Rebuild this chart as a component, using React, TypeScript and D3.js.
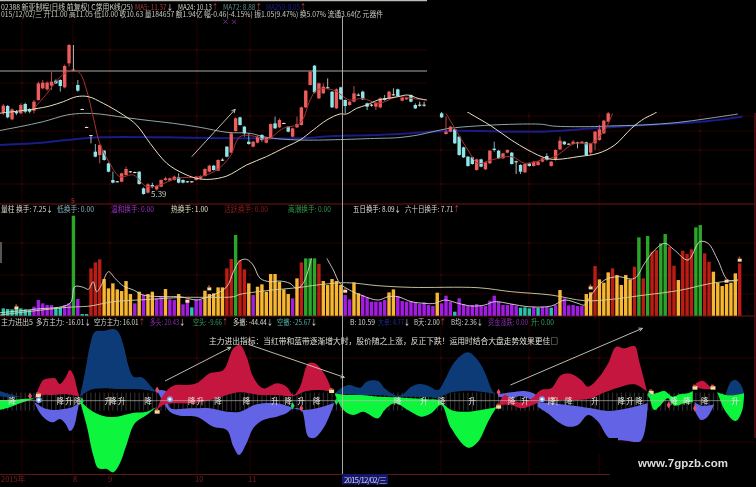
import React from "react";
import * as d3 from "d3";

type P = [number, number];
const WIDTH = 756;
const HEIGHT = 487;

// ---------- candles (price pane, arbitrary level units); null = hidden
const opens: (number | null)[] = [292,312,272,295,290,318,302,298,330,365,362,373,388,390,368,440,420,375,303,249,225,175,165,178,140,90,86,85,105,116,114,115,65,52,75,62,70,90,88,90,98,90,86,86,90,95,102,115,133,118,151,190,172,237,278,250,205,190,202,225,202,215,260,248,261,250,220,248,255,308,375,433,335,350,365,355,305,368,330,315,325,346,355,320,316,310,308,335,335,347,362,328,332,345,315,316,316,null,null,null,290,228,235,242,220,188,160,158,120,152,122,140,184,178,155,172,172,146,135,113,140,132,135,145,162,132,150,182,205,199,198,200,200,203,172,200,210,230,265];
const closes: (number | null)[] = [313,278,302,290,315,295,295,325,380,382,382,385,380,372,432,495,421,358,301,247,222,160,195,150,115,82,84,110,123,114,112,78,48,77,70,72,90,95,95,100,82,82,84,84,100,102,123,133,120,150,149,160,230,275,255,230,198,205,220,210,218,258,245,270,259,235,245,258,308,358,415,353,380,370,368,308,362,332,312,325,350,344,332,310,314,322,335,330,355,345,342,337,337,325,305,314,314,null,null,null,278,235,250,200,165,158,132,138,152,130,143,178,180,155,170,180,138,144,115,138,132,145,145,155,150,145,180,208,197,197,205,203,205,165,200,235,242,268,290];
const highs: (number | null)[] = [318,315,305,300,320,322,305,330,385,390,386,415,392,392,436,498,495,390,304,250,225,198,197,180,142,115,87,112,130,117,115,116,68,80,82,74,92,100,97,103,110,92,87,87,102,104,125,136,135,152,155,192,232,278,280,252,230,207,222,228,220,260,280,275,262,252,247,280,310,360,417,435,382,380,395,357,365,370,332,328,372,350,358,322,318,324,338,345,358,365,364,339,340,347,320,325,325,null,null,null,295,280,252,244,222,190,162,160,154,154,145,180,205,180,172,182,174,148,137,140,142,147,147,157,170,147,182,220,207,200,210,205,207,205,202,237,255,270,300];
const lows: (number | null)[] = [285,275,270,285,287,290,290,290,328,362,358,360,378,355,365,430,418,355,300,246,200,158,140,148,113,80,83,83,103,112,110,76,46,50,65,58,68,88,86,88,80,80,82,82,88,92,100,113,118,116,147,158,170,235,253,220,196,188,200,205,200,212,243,246,258,233,218,246,253,306,373,350,333,348,363,306,303,330,290,313,323,342,330,300,310,300,305,328,333,343,340,326,330,323,303,310,310,null,null,null,276,226,233,198,163,156,130,136,118,128,120,138,175,153,153,170,136,108,108,111,130,130,133,143,148,130,148,180,195,196,196,185,198,163,165,180,208,228,263];

const ma5a: P[] = [[7,305],[10,350],[12,385],[14,410],[16,420],[17.5,410],[19,360],[20.5,280],[22,200],[24.3,140],[26.6,100],[29.7,105],[32.7,70],[35.7,75],[39.5,95],[44.9,100],[48.7,120],[51.7,160],[54,220],[57.8,220],[60,210],[63.9,245],[67.7,260],[70,330],[71.5,360],[75.3,360],[79,330],[82,335],[85.5,320],[90,340],[93,335],[96.6,330]];
const ma5b: P[] = [[101,290],[103,245],[106,180],[108.3,140],[111.3,150],[116,160],[119,140],[122.8,150],[125.8,160],[130.4,200],[134.2,200],[137.2,240],[139,290]];
const ma24a: P[] = [[-1,290],[7,303],[10.6,312],[13.7,325],[16.7,340],[19.4,340],[22.8,320],[27.4,285],[30.4,255],[33.5,200],[37.3,140],[41,110],[44.1,95],[47.1,92],[51,102],[55.5,135],[60,160],[64.6,190],[67.7,210],[70.7,240],[73.8,270],[76.8,288],[78.3,288],[80.6,305],[82.9,315],[85.5,330],[87.8,335],[90,340],[92.3,345],[94.6,335],[96.6,330]];
const ma24b: P[] = [[104,310],[106.4,290],[111.3,252],[115.9,210],[119.7,180],[123.9,155],[126.5,152],[131.1,160],[135.7,170],[139.5,195],[143.3,245],[146.3,275],[148.6,290],[151,315]];
const ma72: P[] = [[-1,238],[3.8,250],[9.1,265],[14.5,285],[18.3,290],[22,288],[27.4,278],[33.5,268],[38.8,260],[44.9,248],[51,233],[56.3,230],[60,218],[67.7,210],[85.5,215],[90,217],[94.6,225],[98,235],[101.8,245],[107.9,252],[115.5,257],[123,257],[125.3,252],[133.7,250],[138.3,252],[145.9,255],[153.5,262],[161,275],[167.6,288]];
const ma250: P[] = [[-1,195],[7,200],[14.5,210],[22,218],[37.3,218],[52.5,215],[60,215],[67.7,215],[75.3,222],[85.5,225],[93.1,230],[100.7,237],[116,235],[123.5,235],[134.9,245],[146.3,255],[153.9,260],[161.5,268],[168.6,280]];

// ---------- volume pane
const volumes = [22,20,19,22,22,19,17,27,47,37,32,32,25,25,32,37,300,50,5,5,142,160,169,110,82,97,79,74,104,65,37,72,62,65,72,52,57,80,49,47,65,34,47,25,49,49,75,65,67,85,85,142,170,242,167,139,97,62,87,94,72,125,125,102,79,65,52,112,160,172,172,172,155,104,92,110,104,92,62,49,100,67,62,55,42,42,42,47,70,79,59,44,42,44,40,35,40,32,29,69,37,60,42,12,52,35,29,32,35,31,29,45,60,42,32,32,35,30,24,25,22,27,24,27,27,24,32,77,52,31,32,29,29,65,70,149,109,99,130,142,122,92,122,109,147,235,112,239,192,197,217,245,207,150,107,195,185,199,265,272,187,162,132,99,89,95,99,127,157];
const volumeKinds = ("ttttttt"+"ppppp"+"tt"+"pp"+"g"+"p"+"tt"+"rrr"+"ooooooo"+"p"+"o"+"p"+"oo"+"pp"+"o"+"pp"+"o"+"pp"+"t"+"pp"+"ooooo"+"rr"+"g"+"rr"+"o"+"p"+"oooooooo"+"p"+"o"+"r"+"ggg"+"r"+"ooooo"+"pp"+"oo"+"pppppp"+"oo"+"ppppppppp"+"o"+"ppp"+"t"+"pppppppppppppp"+"ttt"+"p"+"t"+"pp"+"t"+"p"+"o"+"ppppp"+"oo"+"r"+"ooo"+"r"+"oooo"+"r"+"g"+"r"+"g"+"rr"+"gg"+"rr"+"o"+"rrr"+"gg"+"rr"+"oooooo"+"r").split("");
const volFastA: P[] = [[-0.8,9],[6.8,19],[15.2,37],[16.3,87],[18.3,85],[19.4,79],[20.5,102],[21.3,72],[22.4,92],[24,132],[25.5,112],[27.4,89],[29.7,77],[31.9,62],[37.3,57],[40.3,57],[44.1,47],[45.6,52],[47.9,62],[51,87],[52.5,132],[54,165],[55.5,169],[57,152],[58.6,112],[60.8,102],[63.1,104],[65.4,97],[66.9,82],[68.4,97],[70.3,172]];
const volFastB: P[] = [[73.8,172],[75.3,137],[76.8,97],[79,77],[81,65],[85.5,47],[87.8,57],[90,57],[93.1,42],[96.1,37],[98.4,37],[100.7,47],[103.8,37],[106.8,29],[109.8,32],[112.1,42],[115.9,35],[119.7,27],[125,29],[128.1,47],[131.1,37],[132.6,32],[134.1,62],[137.2,107],[140.2,117],[144,112],[146.3,157],[148.6,197],[150.9,217],[153.1,197],[156.2,167],[158.9,222],[160.8,217],[163,167],[165.3,107],[167.6,107]];
const volSlow: P[] = [[-0.8,2],[14.5,25],[17.5,27],[19.8,29],[25.1,42],[33.5,49],[41,55],[47.9,55],[52.5,57],[54,64],[60,75],[67.7,85],[71.5,92],[78.3,99],[85.5,90],[93.1,85],[108.3,84],[115.9,72],[125,62],[132.6,45],[138.7,49],[146.3,62],[153.9,75],[161.5,97],[167.6,107]];
const volFlags: P[] = [[3,22],[42,42],[47,79],[78,72],[134,82],[165,102],[168,165]];

// ---------- capital-flow pane: bands are [upper edge, lower edge] pairs of (day, value)
const NAVY = "#0e3a78", RED = "#c5163f", GREEN = "#10f53c", PERI = "#6464e6";
const bands: { fill: string; top: P[]; bottom: P[] }[] = [
  { fill: NAVY, top: [[-0.8,29],[1.5,19],[3.8,12],[6.8,7]], bottom: [[-0.8,14],[1.5,9],[3.8,11],[6.8,7]] },
  { fill: GREEN, top: [[-0.8,2],[1.5,2],[3.8,4],[6.8,7]], bottom: [[-0.8,-28],[1.5,-20],[3.8,-8],[6.8,5]] },
  { fill: RED, top: [[7.2,7],[8.2,42],[9.1,62],[10.6,67],[11.8,67],[12.9,50],[14.1,67],[15.2,92],[16,77],[16.9,32],[17.3,12]], bottom: [[7.2,7],[9.1,17],[11.4,17],[14.5,19],[17.3,12]] },
  { fill: PERI, top: [[7.2,-5],[9.1,-21],[11.4,-28],[13.7,-25],[16,-18],[17.3,-5]], bottom: [[7.2,-8],[8.4,-38],[9.9,-58],[11.4,-65],[12.9,-55],[14.1,-68],[15.2,-91],[16.1,-78],[16.9,-33],[17.3,-5]] },
  { fill: NAVY, top: [[17.5,12],[18.6,82],[19.8,167],[20.9,207],[22.8,209],[25.1,215],[26.2,207],[27.4,167],[28.5,107],[29.7,72],[31.6,70],[33.1,52],[34.4,32],[35,25]], bottom: [[17.5,12],[19.8,32],[22.8,37],[25.9,35],[29.7,35],[32.7,32],[35,25]] },
  { fill: GREEN, top: [[17.5,-1],[20.5,-33],[23.6,-48],[25.9,-48],[29.7,-36],[32.7,-33],[35,-18]], bottom: [[17.5,-1],[19,-73],[20.5,-163],[21.7,-203],[23.6,-205],[25.1,-215],[26.6,-188],[28.1,-133],[30,-68],[32.7,-43],[35,-18]] },
  { fill: PERI, top: [[35.1,32],[37.3,27],[38,-21],[42.6,-23],[47.1,-23],[51,-33],[54,-33],[57.8,-11],[62.4,-8],[65.4,-18],[68,-28],[71.5,-23],[75.3,-8]], bottom: [[35.1,29],[36.5,-3],[38,-33],[40.3,-45],[44.1,-48],[47.9,-78],[51,-88],[52.5,-138],[53.8,-163],[55.5,-128],[57,-83],[59.3,-58],[62.4,-48],[64.6,-38],[66.2,-23],[68,-28],[69.6,-108],[71.1,-111],[73,-83],[74.5,-43],[75.5,-8]] },
  { fill: RED, top: [[35,-28],[36.5,17],[38.8,45],[41.8,47],[44.1,52],[47.1,82],[50.2,92],[52.5,157],[54,167],[55.5,132],[57,72],[59.3,37],[62.4,52],[64.6,42],[66.2,17],[67.7,42],[69.6,112],[71.1,112],[73.4,77],[74.9,32]], bottom: [[35,-28],[36.5,-13],[38.8,-8],[42.6,-8],[46.4,-1],[51,17],[54,25],[58.5,17],[62.4,17],[66.2,14],[69.2,29],[72.2,32],[74.9,27]] },
  { fill: NAVY, top: [[75.7,22],[77.6,42],[79.1,47],[81.4,39],[82.9,57],[85.5,59],[87,37],[89.3,17],[90.8,17],[93.1,42],[95,50],[96.9,45],[99.2,32],[100.7,62],[103,117],[106,145],[107.9,127],[109.8,87],[111.7,27],[112.5,20]], bottom: [[75.7,22],[78,19],[81.4,17],[85.5,17],[89.3,12],[93.1,12],[96.9,10],[99.2,9],[102.2,25],[106,30],[109,27],[112.5,20]] },
  { fill: GREEN, top: [[75.7,22],[78,17],[81.4,17],[85.5,12],[89.3,10],[93.1,7],[96.9,4],[99.2,2],[102.2,-28],[106,-33],[109,-28],[112.5,-20]], bottom: [[75.7,17],[77.6,-28],[79.8,-43],[82.1,-33],[85.5,-53],[87,-28],[89.3,-8],[92.3,-28],[95.4,-48],[97.6,-38],[99.9,-13],[102.2,-83],[106,-141],[108.3,-123],[110.6,-63],[112.5,-20]] },
  { fill: PERI, top: [[112.9,19],[115.9,25],[118.9,29],[121.6,17],[122.7,-13]], bottom: [[112.9,12],[115.9,7],[118.1,14],[119.7,7],[121.6,-3],[122.7,-13]] },
  { fill: RED, top: [[113.2,-5],[114.4,17],[116.6,-1],[118.1,-5],[120.4,5],[122.7,32],[125,37],[127.3,77],[129.6,80],[131.8,62],[133.4,42],[135.7,67],[138,112],[139.8,162],[141.7,157],[144,164],[145.1,117],[146.9,27]], bottom: [[113.2,-13],[115.9,-13],[118.1,-23],[120.4,-15],[122.7,-3],[126.5,2],[131.1,2],[134.1,7],[137.2,25],[140.2,39],[144,49],[146.9,27]] },
  { fill: PERI, top: [[121.9,-5],[125,-8],[128.8,-13],[134.1,-23],[138,-31],[142.5,-23],[147,-8]], bottom: [[121.9,-18],[124.2,-38],[126.5,-63],[128.8,-78],[131.1,-73],[133.4,-43],[135.7,-63],[138.3,-113],[142,-120],[145.5,-120],[147,-8]] },
  { fill: GREEN, top: [[147.4,17],[148.9,22],[150.8,29],[152.7,12],[154.3,19],[156.2,22],[157.3,29]], bottom: [[147.4,12],[148.5,-28],[150,-13],[151.6,7],[153.1,-15],[155.4,-8],[157.3,-5]] },
  { fill: RED, top: [[158,52],[159.6,60],[161.5,37]], bottom: [[158,42],[159.6,35],[161.5,35]] },
  { fill: PERI, top: [[157.7,-5],[159.2,-15],[161.5,-13],[162.2,-11]], bottom: [[157.7,-28],[159.2,-58],[160.7,-48],[162.2,-11]] },
  { fill: NAVY, top: [[164.8,19],[166,57],[167.1,62],[168.2,49],[169,22]], bottom: [[164.8,17],[167.1,17],[169,20]] },
  { fill: GREEN, top: [[162.9,25],[164.8,17],[167.1,17],[169,22]], bottom: [[162.9,25],[164.8,-33],[167.1,-61],[168.6,-28],[169,22]] },
];
const signalDays = [2,13,15,17,24,25,27,33,43,45,49,55.5,62,65,68,71.5,90,96,100,107,116,119,125,126,129,135,141,143,145,153,156,160,167];
const signalWords = ["降","降","升","降","升","降","升","降","降","升","降","降","升","降","升","降","降","升","降","升","降","升","降","升","降","升","降","升","降","降","降","降","升"];
const signalMarks: { day: number; value: number; kind: string }[] = [
  { day: 6.1, value: 14, kind: "red" }, { day: 8, value: 17, kind: "gold" }, { day: 8.1, value: 2, kind: "ball" },
  { day: 17.9, value: -1, kind: "green" }, { day: 35.1, value: 32, kind: "red" }, { day: 35.1, value: -33, kind: "gold" },
  { day: 38, value: 4, kind: "ball" }, { day: 66, value: -15, kind: "green" }, { day: 68, value: -23, kind: "red" },
  { day: 74.9, value: 29, kind: "gold" }, { day: 76, value: -3, kind: "green" }, { day: 113, value: 25, kind: "red" },
  { day: 113, value: -18, kind: "gold" }, { day: 122.9, value: 4, kind: "ball" }, { day: 147.8, value: 25, kind: "gold" },
  { day: 147.4, value: 17, kind: "green" }, { day: 151.8, value: -13, kind: "red" }, { day: 157.8, value: 39, kind: "gold" },
  { day: 157.8, value: -23, kind: "red" }, { day: 161.9, value: 39, kind: "gold" },
];
const flowArrows: [P, P][] = [[[36.9,59],[51.9,160]], [[55.9,169],[77.8,70]], [[115.7,47],[145.8,217]]];
const priceArrow: [P, P] = [[43,160],[52.9,302]];

// ---------- scales
const xDay = d3.scaleLinear().domain([0, 168]).range([3.3, 739.7]);
const yPrice = d3.scaleLinear().domain([0, 630]).range([210, 0]);
const yVol = d3.scaleLinear().domain([0, 300]).range([315.7, 215.7]);
const yFlow = d3.scaleLinear().domain([-300, 300]).range([500.67, 300.67]);
const KIND: Record<string, string> = { t: "#2cc4ab", p: "#a31ee2", o: "#f8b730", r: "#bb1c12", g: "#2ca62c" };
const FONT = "'Noto Sans CJK SC','Noto Sans',sans-serif";

function mkLine(y: d3.ScaleLinear<number, number>) {
  return d3.line<P>().x((d) => xDay(d[0])).y((d) => y(d[1])).curve(d3.curveCatmullRom.alpha(0.5));
}
const linePrice = mkLine(yPrice);
const lineVol = mkLine(yVol);
const lineFlow = mkLine(yFlow);
function bandPath(top: P[], bottom: P[]) {
  const a = lineFlow(top) as string;
  const b = (lineFlow([...bottom].reverse()) as string).replace(/^M/, "L");
  return a + b + "Z";
}

function Label({ x, end, y, fill, text, arrow, arrowFill }: { x: number; end: number; y: number; fill: string; text: string; arrow?: string; arrowFill?: string }) {
  return (
    <text x={x} y={y} fill={fill} fontSize={7.6} fontFamily={FONT} textLength={end - x} lengthAdjust="spacingAndGlyphs">
      {text}
      {arrow ? <tspan fill={arrowFill ?? fill}>{arrow}</tspan> : null}
    </text>
  );
}
function Arrow({ from, to, sy }: { from: P; to: P; sy: d3.ScaleLinear<number, number> }) {
  const x1 = xDay(from[0]), y1 = sy(from[1]), x2 = xDay(to[0]), y2 = sy(to[1]);
  const a = Math.atan2(y2 - y1, x2 - x1);
  const h = 4;
  const p = (t: number) => `${x2 + h * Math.cos(a + t)},${y2 + h * Math.sin(a + t)}`;
  return (
    <g stroke="#d0cfc4" strokeWidth={0.9} fill="none">
      <line x1={x1} y1={y1} x2={x2} y2={y2} />
      <polyline points={`${p(Math.PI * 0.85)} ${x2},${y2} ${p(-Math.PI * 0.85)}`} />
    </g>
  );
}

export default function App() {
  const grid = "#2c0a0a";
  const gridV = [22, 73, 110, 197, 250, 441, 529, 599, 700];
  const gridH = [50, 83, 116, 131, 150, 184, 243, 275, 294, 358, 442];
  const stripes = d3.range(0, 169);
  return (
    <svg width={WIDTH} height={HEIGHT} style={{ position: "absolute", left: 0, top: 0, background: "#000" }}>
      <defs>
        <filter id="soft" x="0" y="0" width="100%" height="100%">
          <feGaussianBlur stdDeviation="0.35" />
        </filter>
      </defs>
      <rect width={WIDTH} height={HEIGHT} fill="#000" />
      <g filter="url(#soft)">
        {/* grid */}
        {gridV.map((x) => <line key={x} x1={x} x2={x} y1={20} y2={474} stroke={grid} strokeWidth={1} />)}
        {gridH.map((y) => <line key={y} x1={0} x2={755} y1={y} y2={y} stroke={grid} strokeWidth={1} />)}
        <line x1={0} x2={755} y1={204} y2={204} stroke="#6e1a1a" />
        <line x1={0} x2={755} y1={316} y2={316} stroke="#6e1a1a" />
        <line x1={755} x2={755} y1={113} y2={438} stroke="#8a1c1c" />
        <line x1={0} x2={610} y1={474.5} y2={474.5} stroke="#5e1616" />
        <line x1={0} x2={427} y1={0.5} y2={0.5} stroke="#bdbdb5" strokeWidth={1.5} />
        <line x1={0} x2={427} y1={71} y2={71} stroke="#a8a8a0" />

        {/* price lines below candles */}
        <path d={linePrice(ma250) as string} fill="none" stroke="#1a1a86" strokeWidth={2} />
        <path d={linePrice(ma72) as string} fill="none" stroke="#8fa5a5" strokeWidth={1} />
        {/* candles */}
        {opens.map((o, i) => {
          const c = closes[i];
          if (o == null || c == null) return null;
          const up = c >= o;
          const col = Math.abs(c - o) < 4 ? "#e4e4dc" : up ? "#ee5c5c" : "#8fe6ea";
          const x = xDay(i);
          const yt = yPrice(Math.max(o, c));
          const yb = yPrice(Math.min(o, c));
          return (
            <g key={i}>
              <line x1={x} x2={x} y1={yPrice(highs[i] as number)} y2={yPrice(lows[i] as number)} stroke={col} strokeWidth={0.8} />
              <rect x={x - 1.7} y={yt} width={3.4} height={Math.max(yb - yt, 1)} fill={col} />
            </g>
          );
        })}
        <path d={linePrice(ma5a) as string} fill="none" stroke="#a83232" strokeWidth={1} />
        <path d={linePrice(ma5b) as string} fill="none" stroke="#a83232" strokeWidth={1} />
        <path d={linePrice(ma24a) as string} fill="none" stroke="#e8dfc0" strokeWidth={1} />
        <path d={linePrice(ma24b) as string} fill="none" stroke="#e8dfc0" strokeWidth={1} />
        <Arrow from={priceArrow[0]} to={priceArrow[1]} sy={yPrice} />
        <text x={151} y={197} fill="#c8c8c0" fontSize={8} fontFamily={FONT}>5.39</text>
        <text x={71} y={203} fill="#c03030" fontSize={7} fontFamily={FONT}>5</text>
        <text x={222} y={24} fill="#a040d0" fontSize={7} fontFamily={FONT}>× ×</text>
        {/* blacked-out upper right corner */}
        <rect x={427} y={0} width={329} height={112} fill="#000" />

        {/* headers */}
        <Label x={1} end={133} y={9.5} fill="#d0d0c8" text="02388 新亚制程(日线 前复权) C常用K线(25)" />
        <Label x={135} end={173} y={9.5} fill="#a83a3a" text="MA5: 11.37" arrow="↓" arrowFill="#e0e0d8" />
        <Label x={178} end={218} y={9.5} fill="#d8d8d0" text="MA24: 10.13" arrow="↑" arrowFill="#d04040" />
        <Label x={223} end={262} y={9.5} fill="#5f8c8c" text="MA72: 8.88" arrow="↑" arrowFill="#d04040" />
        <Label x={266} end={306} y={9.5} fill="#1c2090" text="MA250: 8.05" arrow="↑" arrowFill="#d04040" />
        <Label x={1} end={383} y={17} fill="#c8c8c0" text="015/12/02/三 开11.00 高11.05 低10.00 收10.63 量184657 额1.94亿 幅-0.46(-4.15%) 振1.05(9.47%) 换5.07% 流通3.64亿 元器件" />

        <Label x={1} end={53} y={212} fill="#d8d8d0" text="量柱 换手: 7.25" arrow="↓" />
        <Label x={57} end={94} y={212} fill="#7fb4c0" text="低换手: 0.00" />
        <Label x={111} end={154} y={212} fill="#a030d0" text="温和换手: 0.00" />
        <Label x={171} end={208} y={212} fill="#e0dcc0" text="热换手: 1.00" />
        <Label x={224} end={268} y={212} fill="#8e2020" text="活跃换手: 0.00" />
        <Label x={288} end={331} y={212} fill="#2f9a4a" text="高潮换手: 0.00" />
        <Label x={353} end={401} y={212} fill="#e0e0d8" text="五日换手: 8.09" arrow="↓" />
        <Label x={405} end={460} y={212} fill="#d8d8d0" text="六十日换手: 7.71" arrow="↑" arrowFill="#d04040" />

        {/* volume bars */}
        {volumes.map((v, i) => (
          <rect key={i} x={xDay(i) - 1.7} y={yVol(v)} width={3.4} height={yVol(0) - yVol(v)} fill={KIND[volumeKinds[i]]} />
        ))}
        <path d={lineVol(volFastA) as string} fill="none" stroke="#d8d8d0" strokeWidth={0.9} />
        <path d={lineVol(volFastB) as string} fill="none" stroke="#d8d8d0" strokeWidth={0.9} />
        <path d={lineVol(volSlow) as string} fill="none" stroke="#d4d0a8" strokeWidth={0.9} />
        {volFlags.map(([d, v], i) => (
          <g key={i}>
            <rect x={xDay(d) - 2} y={yVol(v) - 2} width={4} height={3} fill="#f4dca8" />
            <rect x={xDay(d) - 1} y={yVol(v) - 4} width={1.5} height={2} fill="#d84a30" />
          </g>
        ))}
        <rect x={0} y={242} width={2} height={21} fill="#555" />

        <Label x={1} end={33} y={325} fill="#d8d8d0" text="主力进出5" />
        <Label x={36} end={91} y={325} fill="#d8d8d0" text="多方主力: -16.01" arrow="↓" />
        <Label x={94} end={145} y={325} fill="#d8d8d0" text="空方主力: 16.01" arrow="↑" arrowFill="#d04040" />
        <Label x={150} end={185} y={325} fill="#8a2fb0" text="多头: 20.43" arrow="↓" arrowFill="#e0e0d8" />
        <Label x={193} end={228} y={325} fill="#35a060" text="空头: -9.66" arrow="↑" arrowFill="#d04040" />
        <Label x={233} end={273} y={325} fill="#d8d8d0" text="多撤: -44.44" arrow="↓" />
        <Label x={277} end={317} y={325} fill="#4fb0a8" text="空撤: -25.67" arrow="↓" arrowFill="#e0e0d8" />
        <Label x={350} end={375} y={325} fill="#d8d8d0" text="B: 10.59" />
        <Label x={378} end={410} y={325} fill="#1f2a9a" text="大单: 4.77" arrow="↓" arrowFill="#e0e0d8" />
        <Label x={414} end={446} y={325} fill="#d8d8d0" text="B天: 2.00" arrow="↑" arrowFill="#d04040" />
        <Label x={451} end={483} y={325} fill="#d8d8d0" text="B均: 2.36" arrow="↓" />
        <Label x={488} end={528} y={325} fill="#8a2fb0" text="资金涨跌: 0.00" />
        <Label x={531} end={554} y={325} fill="#35a060" text="升: 0.00" />

        {/* flow pane */}
        {stripes.map((d) => (
          <line key={d} x1={xDay(d)} x2={xDay(d)} y1={yFlow(24)} y2={yFlow(-30)} stroke="#4a4a4a" strokeWidth={0.7} />
        ))}
        {bands.map((b, i) => <path key={i} d={bandPath(b.top, b.bottom)} fill={b.fill} />)}
        {/* flat cut of the band along the edge of the pasted patch */}
        <rect x={558} y={438} width={60} height={16} fill="#000" />
        <line x1={0} x2={741} y1={yFlow(0)} y2={yFlow(0)} stroke="#bdbdb5" strokeWidth={0.8} opacity={0.8} />
        {signalDays.map((d, i) => (
          <text key={i} x={xDay(d)} y={yFlow(0) + 3} textAnchor="middle" fill="#e6e6de" fontSize={7.5} fontFamily={FONT}>{signalWords[i]}</text>
        ))}
        {signalMarks.map((m, i) => {
          const cx = xDay(m.day), cy = yFlow(m.value);
          if (m.kind === "ball") return (
            <g key={i}>
              <circle cx={cx} cy={cy} r={3} fill="#7aa0ee" />
              <circle cx={cx} cy={cy} r={1.4} fill="#fff" />
            </g>
          );
          if (m.kind === "gold") return (
            <g key={i}>
              <rect x={cx - 2.5} y={cy - 1.5} width={5} height={3.5} fill="#f4dca0" />
              <rect x={cx - 2} y={cy - 3} width={3} height={1.6} fill="#d84a30" />
            </g>
          );
          const sym = d3.symbol().type(d3.symbolDiamond).size(14)() as string;
          return <path key={i} d={sym} transform={`translate(${cx},${cy})`} fill={m.kind === "red" ? "#e2506a" : "#22d860"} />;
        })}
        {flowArrows.map((a, i) => <Arrow key={i} from={a[0]} to={a[1]} sy={yFlow} />)}
        <Label x={209} end={558} y={344} fill="#e0e0d8" text="主力进出指标：当红带和蓝带逐渐增大时，股价随之上涨，反正下跌！运用时结合大盘走势效果更佳□" />

        {/* cursor */}
        <line x1={342.5} x2={342.5} y1={16} y2={474} stroke="#b8b8b0" strokeWidth={0.9} />

        {/* time axis */}
        <text x={1} y={482} fill="#7a2020" fontSize={7.5} fontFamily={FONT}>2015年</text>
        <text x={73} y={482} fill="#7a2020" fontSize={7.5} fontFamily={FONT}>8</text>
        <text x={108} y={482} fill="#7a2020" fontSize={7.5} fontFamily={FONT}>9</text>
        <text x={195} y={482} fill="#7a2020" fontSize={7.5} fontFamily={FONT}>10</text>
        <text x={248} y={482} fill="#7a2020" fontSize={7.5} fontFamily={FONT}>11</text>
        <rect x={342} y={474} width={46} height={10.5} fill="#16166e" />
        <text x={344} y={482.5} fill="#c8c8e0" fontSize={8} fontFamily={FONT} textLength={43}>2015/12/02/三</text>

        {/* watermark patch */}
        <rect x={610} y={452} width={146} height={35} fill="#000" />
        <text x={638} y={467} fill="#dcdcdc" fontSize={11.5} fontWeight="bold" fontFamily="'Liberation Sans',sans-serif" textLength={90}>www.7gpzb.com</text>
      </g>
    </svg>
  );
}
